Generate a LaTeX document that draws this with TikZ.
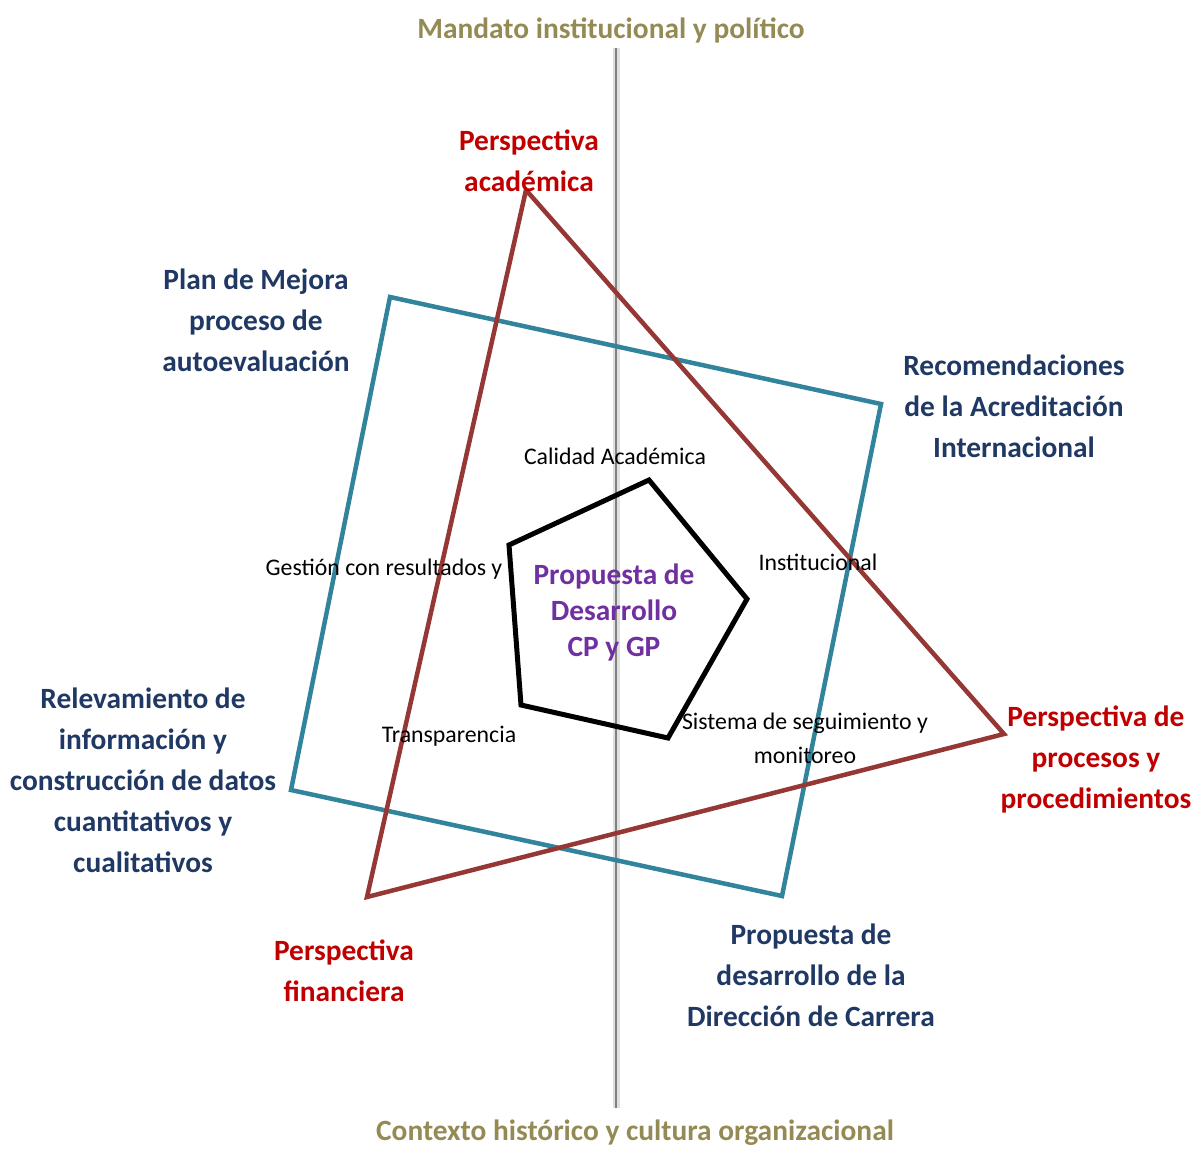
\documentclass[tikz,border=0pt]{standalone}
\usepackage{fontspec}
\setmainfont{Carlito}
\definecolor{tri}{HTML}{953735}
\definecolor{sq}{HTML}{31849B}
\definecolor{labred}{HTML}{C00000}
\definecolor{labblue}{HTML}{1F3864}
\definecolor{labpurple}{HTML}{7030A0}
\definecolor{olive}{HTML}{948A54}
\begin{document}
\begin{tikzpicture}[x=1pt,y=-1pt,
  big/.style={font=\fontsize{29.4}{41}\selectfont\bfseries, align=center, inner sep=0pt},
  redlab/.style={big, text=labred},
  bluelab/.style={big, text=labblue},
  olivelab/.style={big, text=olive},
  smalllab/.style={font=\fontsize{23.8}{34}\selectfont, align=center, inner sep=0pt, text=black},
  triline/.style={draw=tri, line width=4.5pt, line join=miter},
  sqline/.style={draw=sq, line width=4.5pt, line join=miter},
  pentline/.style={draw=black, line width=5pt, line join=miter}]
\useasboundingbox (0,0) rectangle (1195,1149);
% axis
\coordinate (axtop) at (616,48);
\coordinate (axbot) at (616,1108);
\draw[line width=7pt, black!12] (axtop) -- (axbot);
\draw[line width=2.4pt, black!50] (axtop) -- (axbot);
% square
\coordinate (s1) at (390,297);
\coordinate (s2) at (881,404);
\coordinate (s3) at (782,896);
\coordinate (s4) at (291,790);
\draw[sqline] (s1) -- (s2) -- (s3) -- (s4) -- cycle;
% triangle
\coordinate (t1) at (526,190);
\coordinate (t2) at (1004,734);
\coordinate (t3) at (367,897);
\draw[triline] (t1) -- (t2) -- (t3) -- cycle;
% pentagon
\coordinate (p1) at (649,480);
\coordinate (p2) at (747,599);
\coordinate (p3) at (668,738);
\coordinate (p4) at (521,705);
\coordinate (p5) at (509,545);
\draw[pentline] (p1) -- (p2) -- (p3) -- (p4) -- (p5) -- cycle;
% titles
\node[olivelab] (mandato) at (611,30) {Mandato institucional y político};
\node[olivelab] (contexto) at (635,1133) {Contexto histórico y cultura organizacional};
% outer labels
\node[redlab] (pacad) at (529,161) {Perspectiva\\académica};
\node[bluelab] (plan) at (256,320) {Plan de Mejora\\proceso de\\autoevaluación};
\node[bluelab] (recom) at (1014,406) {Recomendaciones\\de la Acreditación\\Internacional};
\node[redlab] (pproc) at (1096,759) {Perspectiva de\\procesos y\\procedimientos};
\node[bluelab] (propdir) at (811,975) {Propuesta de\\desarrollo de la\\Dirección de Carrera};
\node[redlab] (pfin) at (344,971) {Perspectiva\\financiera};
\node[bluelab] (relev) at (143,780) {Relevamiento de\\información y\\construcción de datos\\cuantitativos y\\cualitativos};
% center
\node[big, text=labpurple, font=\fontsize{29.4}{36}\selectfont\bfseries] (centro) at (614,612) {Propuesta de\\Desarrollo\\CP y GP};
% pentagon labels
\node[smalllab] (calidad) at (615,456) {Calidad Académica};
\node[smalllab] (inst) at (818,562) {Institucional};
\node[smalllab] (gestion) at (384,569) {Gestión con resultados y};
\node[smalllab] (transp) at (449,736) {Transparencia};
\node[smalllab] (sistema) at (805,738) {Sistema de seguimiento y\\monitoreo};
\end{tikzpicture}
\end{document}
